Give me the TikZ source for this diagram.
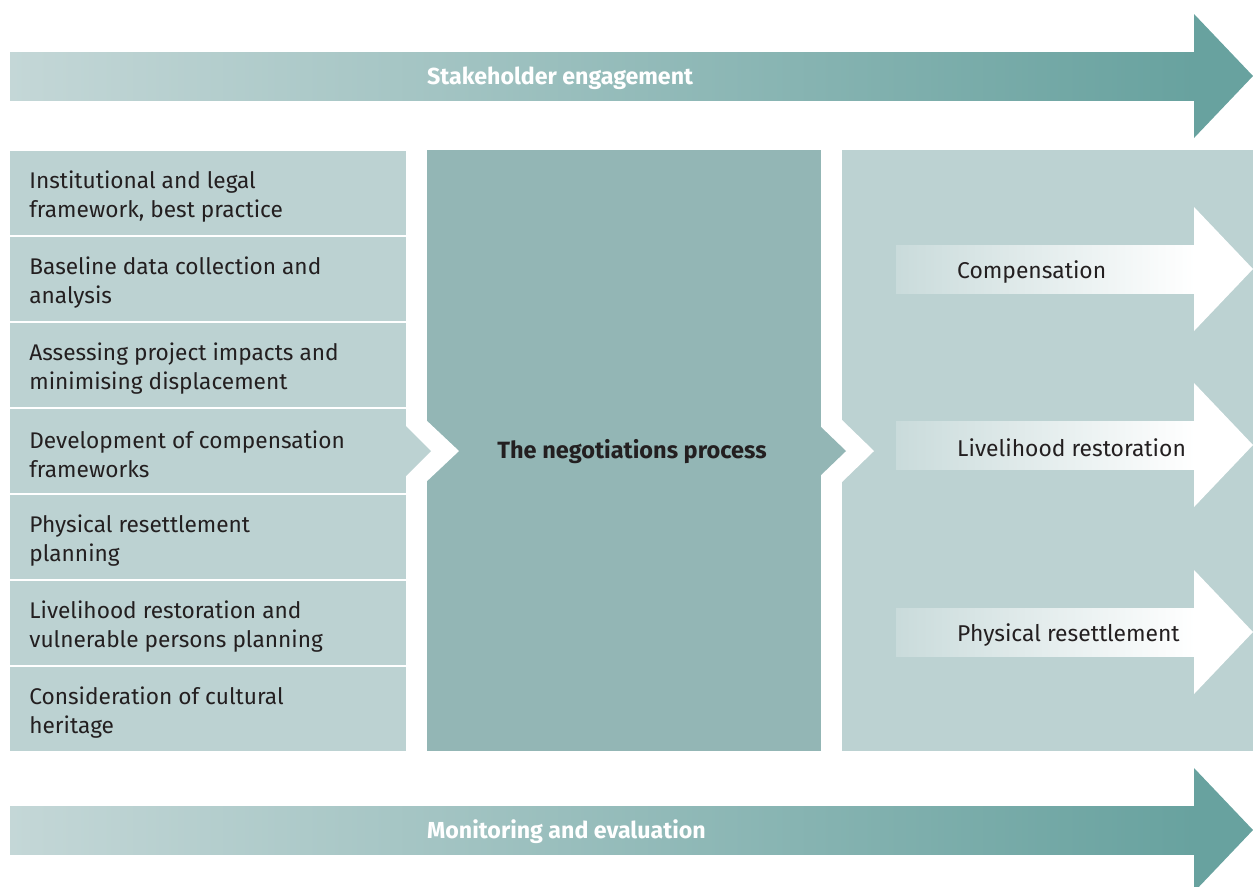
\documentclass[tikz,border=0pt]{standalone}
\usepackage{fontspec}
\setmainfont{Fira Sans}
\definecolor{boxlight}{HTML}{BCD2D2}
\definecolor{boxmid}{HTML}{93B6B5}
\definecolor{banlight}{HTML}{C4D7D7}
\definecolor{banteal}{HTML}{68A29F}
\definecolor{ink}{HTML}{231F20}
\tikzset{
  stepbox/.style={fill=boxlight, minimum width=7.92cm, minimum height=1.67cm, inner sep=0pt, anchor=north west},
  steptext/.style={anchor=west, inner sep=0pt, align=left, text=ink, font=\fontsize{12.9}{16.5}\selectfont},
  banner/.style={font=\bfseries\fontsize{13.2}{15}\selectfont, text=white, anchor=west},
  outcome/.style={font=\fontsize{13}{15}\selectfont, text=ink, anchor=west}
}
\begin{document}
\begin{tikzpicture}[x=0.02cm, y=-0.02cm]
                \useasboundingbox (0,0) rectangle (1253,886);
                % banners
                \foreach \y/\n in {76/stake, 830/monitor}
                {
                    \shade[left color=banlight, right color=banteal] (10,\y-24) rectangle (1195,\y+24);
                    \fill[banteal] (1194,\y-62) -- (1253,\y) -- (1194,\y+62) -- cycle;
                }
                \node[banner] (stake) at (421,78) {Stakeholder engagement};
                \node[banner] (monitor) at (421,832) {Monitoring and evaluation};
                % left column
                \foreach \i/\txt in {1/{Institutional and legal\\framework, best practice},
                                     2/{Baseline data collection and\\analysis},
                                     3/{Assessing project impacts and\\minimising displacement},
                                     4/{Development of compensation\\frameworks},
                                     5/{Physical resettlement\\planning},
                                     6/{Livelihood restoration and\\vulnerable persons planning},
                                     7/{Consideration of cultural\\heritage}}
                {
                    \node[stepbox] (step\i) at (10,{151+86*(\i-1)}) {};
                    \node[steptext] (steplbl\i) at ([xshift=0.38cm, yshift=-0.06cm]step\i.west) {\txt};
                }
                % middle and right blocks
                \node[fill=boxmid, minimum width=7.88cm, minimum height=12.02cm, anchor=north west, inner sep=0pt] (nego) at (427,150) {};
                \node[fill=boxlight, minimum width=8.22cm, minimum height=12.02cm, anchor=north west, inner sep=0pt] (result) at (842,150) {};
                \fill[white] (425,419) -- (459,451) -- (425,483) -- cycle;
                \fill[white] (841,419) -- (874,451) -- (841,483) -- cycle;
                \fill[boxlight] (405,425) -- (431,451) -- (405,477) -- cycle;
                \fill[boxmid] (820,426) -- (846,451) -- (820,476) -- cycle;
                \node[font=\bfseries\fontsize{13.4}{15}\selectfont, text=ink] (negolbl) at (632,452) {The negotiations process};
                % outcome arrows
                \foreach \y/\lbl/\n in {269/Compensation/comp, 445/Livelihood restoration/live, 632/Physical resettlement/phys}
                {
                    \shade[left color=boxlight!80!white, right color=white] (896,\y-24) rectangle (1195,\y+24);
                    \fill[white] (1194,\y-62) -- (1253,\y) -- (1194,\y+62) -- cycle;
                    \node[outcome] (\n) at (951,\y+3) {\lbl};
                }
            \end{tikzpicture}
\end{document}
